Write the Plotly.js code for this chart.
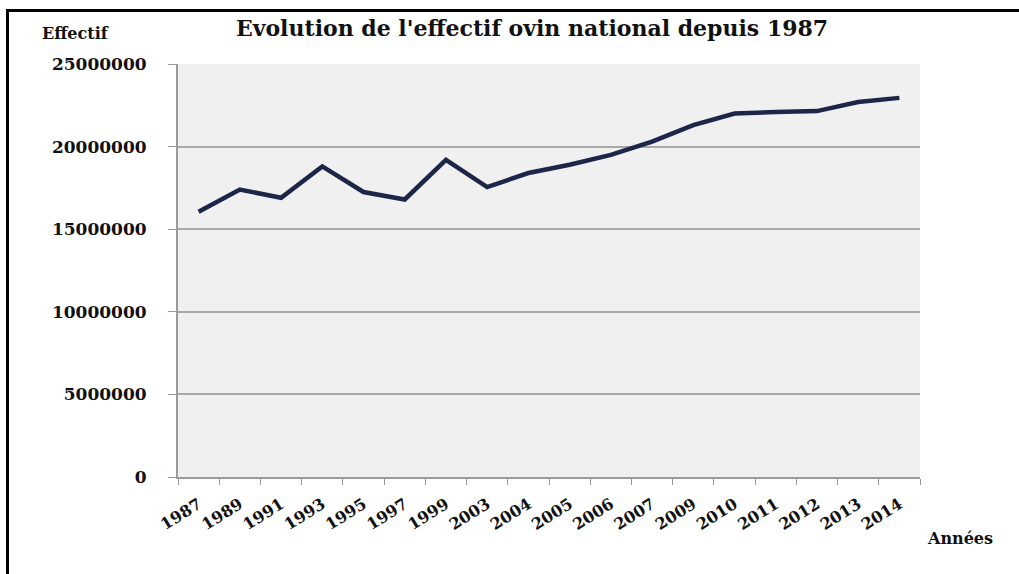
<!DOCTYPE html>
<html>
<head>
<meta charset="utf-8">
<script src="https://cdn.plot.ly/plotly-3.0.1.min.js"></script>
<style>
  html, body { margin: 0; padding: 0; background: #ffffff; }
  #chart { width: 1019px; height: 574px; position: relative; }
  #frame { position: absolute; left: 6px; top: 9px; right: 0; bottom: 0;
           border-top: 3px solid #000; border-left: 3px solid #000; pointer-events: none; }
</style>
</head>
<body>
<div id="chart"></div>
<div id="frame"></div>
<script>
const years = ['1987','1989','1991','1993','1995','1997','1999','2003','2004','2005',
               '2006','2007','2009','2010','2011','2012','2013','2014'];
const effectif = [16050000, 17400000, 16900000, 18800000, 17250000, 16800000, 19200000, 17550000,
                  18400000, 18900000, 19500000, 20300000, 21300000, 22000000, 22100000, 22150000,
                  22700000, 22950000];
const yTicks = [0, 5000000, 10000000, 15000000, 20000000, 25000000];
const yTickText = ['0', '5000000', '10000000', '15000000', '20000000', '25000000'];

const serif = 'DejaVu Serif, Liberation Serif, serif';

const trace = {
  type: 'scatter', mode: 'lines',
  x: years, y: effectif,
  line: { color: '#1c2648', width: 4.5 },
  hoverinfo: 'x+y'
};

const layout = {
  width: 1019, height: 574,
  margin: { l: 178, r: 99, t: 64, b: 97 },
  paper_bgcolor: '#ffffff',
  plot_bgcolor: '#f0f0f0',
  showlegend: false,
  title: {
    text: "Evolution de l'effectif ovin national depuis 1987",
    font: { family: serif, size: 22, color: '#111111', weight: 'bold' },
    x: 532 / 1019, xanchor: 'center', xref: 'container',
    y: 1 - 28 / 574, yanchor: 'middle', yref: 'container'
  },
  xaxis: {
    type: 'category',
    categoryorder: 'array', categoryarray: years,
    range: [-0.5, years.length - 0.5],
    tickangle: -32,
    tickfont: { family: serif, size: 16, color: '#111111', weight: 'bold' },
    ticks: 'outside', tickson: 'boundaries', ticklen: 6, tickcolor: '#9a9a9a',
    showline: true, linecolor: '#9a9a9a', linewidth: 2,
    showgrid: false, zeroline: false,
    ticklabelstandoff: 10,
    fixedrange: true
  },
  yaxis: {
    range: [0, 25000000],
    tickvals: yTicks, ticktext: yTickText,
    tickfont: { family: serif, size: 17, color: '#111111', weight: 'bold' },
    ticks: 'outside', ticklen: 8, tickcolor: '#9a9a9a',
    showline: true, linecolor: '#9a9a9a', linewidth: 2,
    showgrid: true, gridcolor: '#a8a8a8', gridwidth: 2,
    zeroline: false,
    ticklabelstandoff: 18,
    fixedrange: true
  },
  annotations: [
    { text: 'Effectif', xref: 'paper', yref: 'paper',
      x: (75 - 178) / 742, y: (477 - 34) / 413, xanchor: 'center', yanchor: 'middle',
      showarrow: false, font: { family: serif, size: 16, color: '#111111', weight: 'bold' } },
    { text: 'Années', xref: 'paper', yref: 'paper',
      x: (960 - 178) / 742, y: (477 - 538) / 413, xanchor: 'center', yanchor: 'middle',
      showarrow: false, font: { family: serif, size: 16, color: '#111111', weight: 'bold' } }
  ]
};

Plotly.newPlot('chart', [trace], layout, { displayModeBar: false, staticPlot: true });
</script>
</body>
</html>
